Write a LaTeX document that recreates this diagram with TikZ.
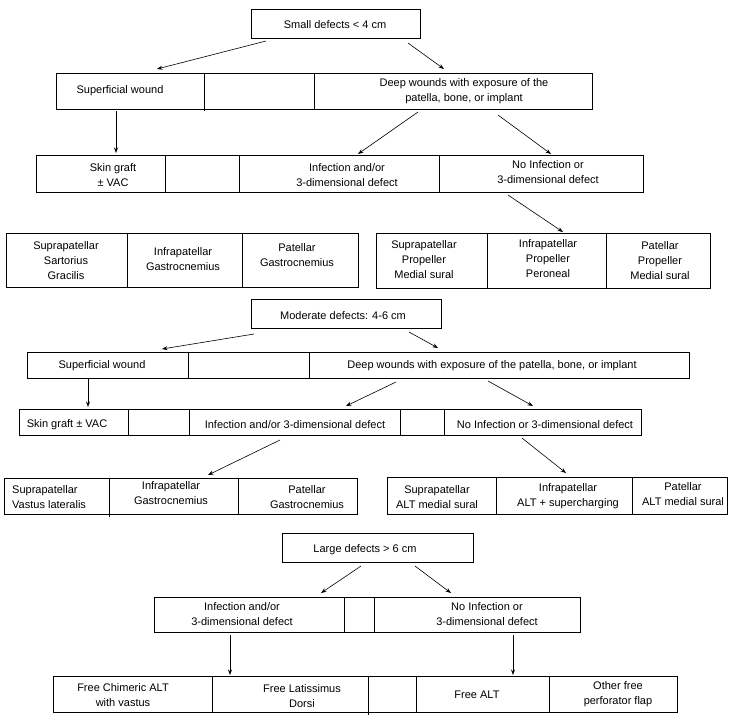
\documentclass[tikz,border=0pt]{standalone}
\usepackage{fontspec}
\setmainfont{Liberation Sans}
\usetikzlibrary{arrows.meta,calc}
\tikzset{
  cell/.style={draw=black, line width=0.9pt, inner sep=0pt, outer sep=0pt, rectangle},
  txt/.style={font=\fontsize{11}{15}\selectfont, align=center, inner sep=0pt, yshift=-1pt},
  one/.style={txt, yshift=-1pt},
  arr/.style={line width=0.6pt, -{Stealth[length=5.5pt,width=4pt]}},
  ext/.style={line width=0.9pt}
}
\newcommand\mkcell[5]{\node[cell, minimum width={#4pt-#2pt}, minimum height={#5pt-#3pt}] (#1) at ({(#2+#4)/2},{(#3+#5)/2}) {};}
\begin{document}
\begin{tikzpicture}[x=1pt,y=-1pt]
\useasboundingbox (0,0) rectangle (736,721);
% ---------- Block 1 ----------
\mkcell{A}{251}{9}{420}{38}
\node[one] (At) at (335,23) {Small defects < 4 cm};
\mkcell{B1}{56}{73}{204}{109}
\mkcell{B2}{204}{73}{314}{109}
\mkcell{B3}{314}{73}{592}{109}
\draw[ext] (B1.south east) -- ++(0,2);
\node[one] (B1t) at (120,89) {Superficial wound};
\node[txt] (B3t) at (464,90) {Deep wounds with exposure of the\\patella, bone, or implant};
\mkcell{C1}{36}{155}{165}{192}
\mkcell{C2}{165}{155}{239}{192}
\mkcell{C3}{239}{155}{439}{192}
\mkcell{C4}{439}{155}{643}{192}
\node[txt] (C1t) at (113,174) {Skin graft\\± VAC};
\node[txt] (C3t) at (347,174) {Infection and/or\\3-dimensional defect};
\node[txt] (C4t) at (548,171) {No Infection or\\3-dimensional defect};
\mkcell{DL1}{6}{233}{127}{287}
\mkcell{DL2}{127}{233}{242}{287}
\mkcell{DL3}{242}{233}{358}{287}
\node[txt] (DL1t) at (66,260) {Suprapatellar\\Sartorius\\Gracilis};
\node[txt] (DL2t) at (183,258) {Infrapatellar\\Gastrocnemius};
\node[txt] (DL3t) at (297,254) {Patellar\\Gastrocnemius};
\mkcell{DR1}{376}{233}{487}{288}
\mkcell{DR2}{487}{233}{606}{288}
\mkcell{DR3}{606}{233}{710}{288}
\node[txt] (DR1t) at (424,259) {Suprapatellar\\Propeller\\Medial sural};
\node[txt] (DR2t) at (548,258) {Infrapatellar\\Propeller\\Peroneal};
\node[txt] (DR3t) at (660,260) {Patellar\\Propeller\\Medial sural};
\draw[arr] ($(A.south west)+(15,3)$) -- ($(B1.north west)+(101,-4)$);
\draw[arr] ($(A.south east)+(-12,5)$) -- ($(B3.north west)+(130,-4)$);
\draw[arr] ($(B1.south west)+(60,2)$) -- ($(C1.north west)+(80,-2)$);
\draw[arr] ($(B3.south west)+(104,3)$) -- ($(C3.north west)+(119,-1)$);
\draw[arr] ($(B3.south west)+(184,6)$) -- ($(C4.north west)+(112,-1)$);
\draw[arr] ($(C4.south west)+(69,3)$) -- ($(DR2.north west)+(76,-1)$);
% ---------- Block 2 ----------
\mkcell{M}{251}{299}{441}{328}
\node[one] (Mt) at (343,314) {Moderate defects: 4-6 cm};
\mkcell{E1}{27}{352}{188}{378}
\mkcell{E2}{188}{352}{309}{378}
\mkcell{E3}{309}{352}{689}{378}
\node[one] (E1t) at (102,364) {Superficial wound};
\node[one] (E3t) at (492,364) {Deep wounds with exposure of the patella, bone, or implant};
\mkcell{F1}{19}{409}{128}{435}
\mkcell{F2}{128}{409}{189}{435}
\mkcell{F3}{189}{409}{400}{435}
\mkcell{F4}{400}{409}{444}{435}
\mkcell{F5}{444}{409}{641}{435}
\node[one] (F1t) at (67,423) {Skin graft ± VAC};
\node[one] (F3t) at (295,423) {Infection and/or 3-dimensional defect};
\node[one] (F5t) at (545,423) {No Infection or 3-dimensional defect};
\mkcell{GL1}{4}{478}{109}{514}
\mkcell{GL2}{109}{478}{238}{514}
\mkcell{GL3}{238}{478}{357}{514}
\draw[ext] (GL1.south east) -- ++(0,3);
\node[txt, align=left, anchor=west] (GL1t) at (12,496) {Suprapatellar\\Vastus lateralis};
\node[txt] (GL2t) at (171,492) {Infrapatellar\\Gastrocnemius};
\node[txt] (GL3t) at (307,496) {Patellar\\Gastrocnemius};
\mkcell{GR1}{387}{477}{496}{514}
\mkcell{GR2}{496}{477}{632}{514}
\mkcell{GR3}{632}{477}{727}{514}
\node[txt] (GR1t) at (437,496) {Suprapatellar\\ALT medial sural};
\node[txt] (GR2t) at (568,495) {Infrapatellar\\ALT + supercharging};
\node[txt] (GR3t) at (683,493) {Patellar\\ALT medial sural};
\draw[arr] ($(M.south west)+(3,6)$) -- ($(E1.north west)+(135,-3)$);
\draw[arr] ($(M.south west)+(158,4)$) -- ($(E3.north west)+(129,-4)$);
\draw[arr] ($(E1.south west)+(61,0)$) -- ($(F1.north west)+(69,-2)$);
\draw[arr] ($(E3.south west)+(87,4)$) -- ($(F3.north west)+(157,-3)$);
\draw[arr] ($(E3.south west)+(179,3)$) -- ($(F5.north west)+(89,-3)$);
\draw[arr] ($(F3.south west)+(91,5)$) -- ($(GL2.north west)+(99,-3)$);
\draw[arr] ($(F5.south west)+(78,3)$) -- ($(GR2.north west)+(70,-4)$);
% ---------- Block 3 ----------
\mkcell{L}{282}{533}{473}{562}
\node[one] (Lt) at (365,548) {Large defects > 6 cm};
\mkcell{H1}{154}{597}{344}{632}
\mkcell{H2}{344}{597}{374}{632}
\mkcell{H3}{374}{597}{580}{632}
\node[txt] (H1t) at (242,613) {Infection and/or\\3-dimensional defect};
\node[txt] (H3t) at (487,613) {No Infection or\\3-dimensional defect};
\mkcell{I1}{53}{676}{212}{712}
\mkcell{I2}{212}{676}{368}{712}
\mkcell{I3}{368}{676}{416}{712}
\mkcell{I4}{416}{676}{549}{712}
\mkcell{I5}{549}{676}{677}{712}
\draw[ext] (I2.south east) -- ++(0,3);
\node[txt] (I1t) at (123,694) {Free Chimeric ALT\\with vastus};
\node[txt] (I2t) at (302,695) {Free Latissimus\\Dorsi};
\node[one] (I4t) at (477,693) {Free ALT};
\node[txt] (I5t) at (618,693) {Other free\\perforator flap};
\draw[arr] ($(L.south west)+(79,4)$) -- ($(H1.north west)+(167,-4)$);
\draw[arr] ($(L.south west)+(133,4)$) -- ($(H3.north west)+(77,-4)$);
\draw[arr] ($(H1.south west)+(76,3)$) -- ($(I2.north west)+(18,-1)$);
\draw[arr] ($(H3.south west)+(139,3)$) -- ($(I4.north west)+(97,-1)$);
\end{tikzpicture}
\end{document}
